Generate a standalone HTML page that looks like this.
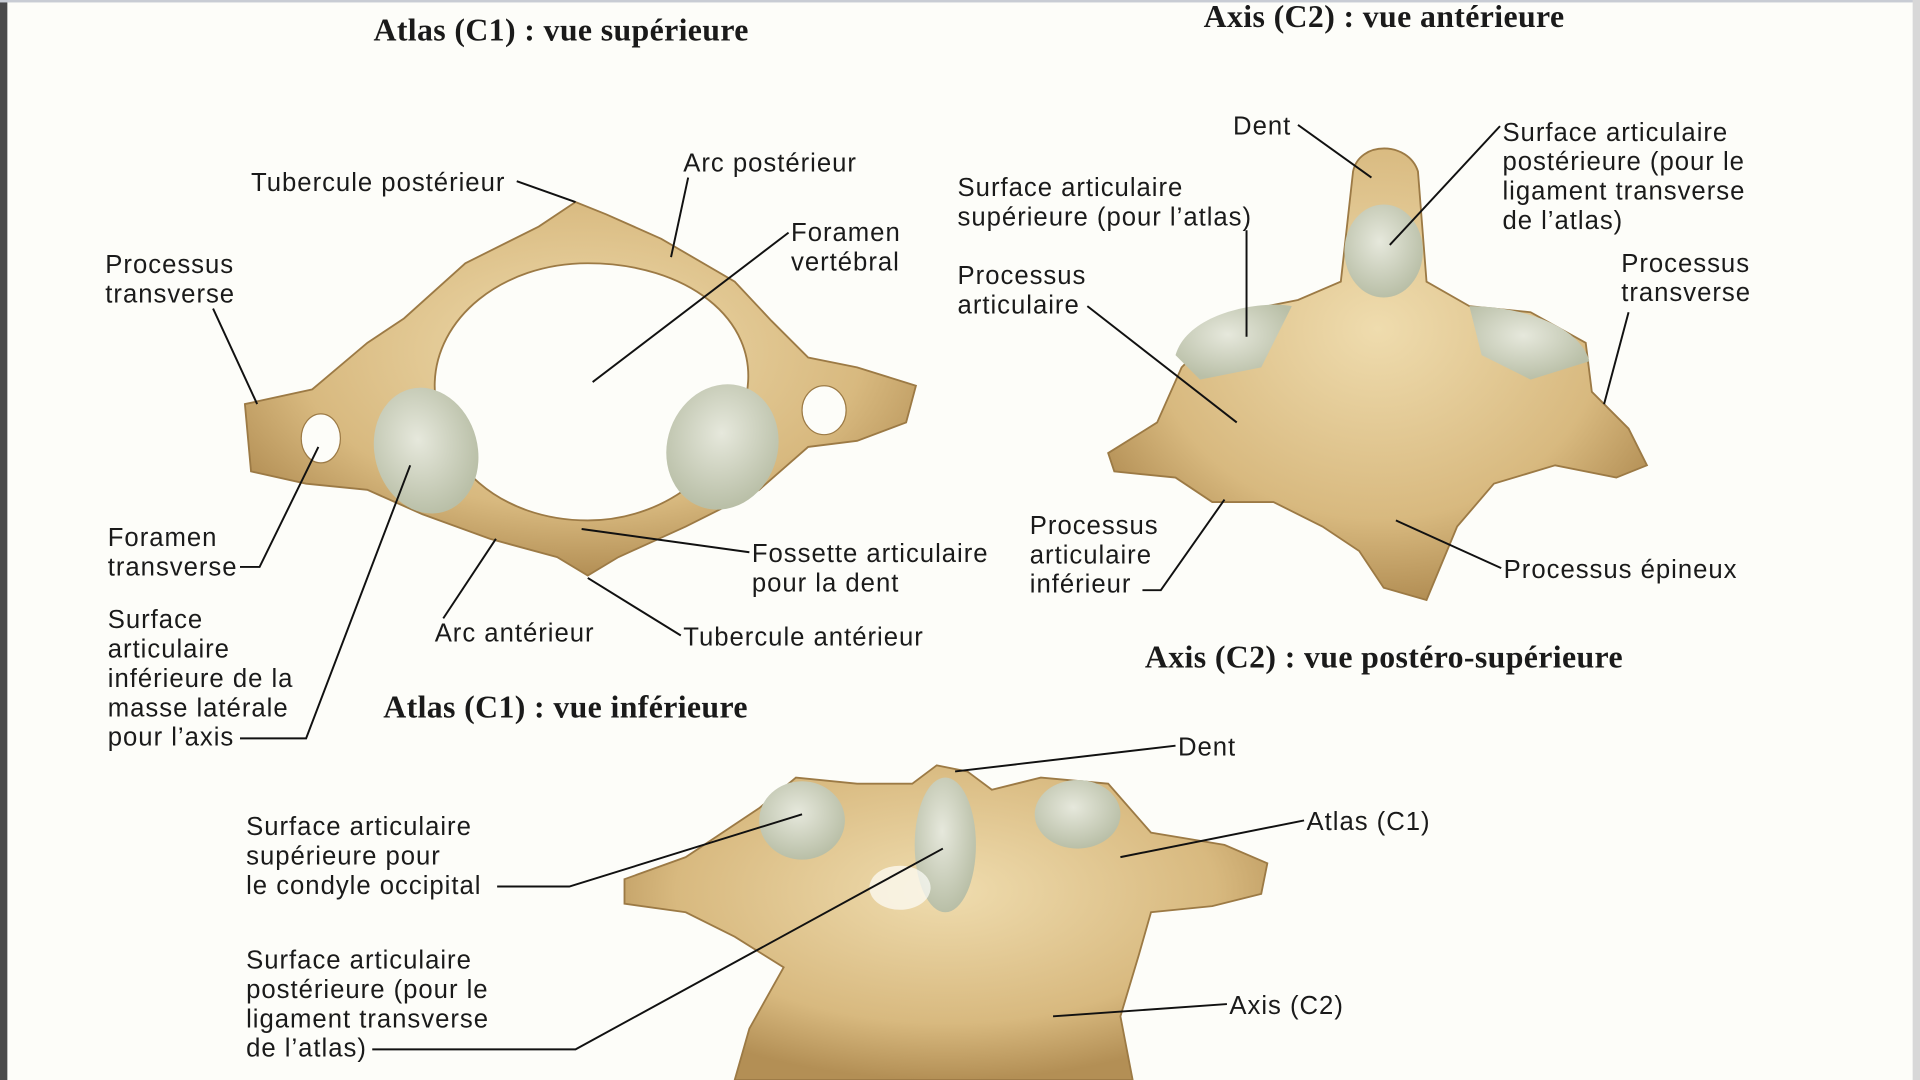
<!DOCTYPE html>
<html><head><meta charset="utf-8"><style>
html,body{margin:0;padding:0;background:#fdfdf9;}
svg{display:block}
text{font-family:"Liberation Sans",sans-serif;font-size:21px;letter-spacing:0.8px;fill:#1a1a1a}
.t{font-family:"Liberation Serif",serif;font-weight:bold;font-size:26px;letter-spacing:0.3px}
line,polyline{stroke:#111;stroke-width:1.6;fill:none}
</style></head><body>
<svg width="1920" height="1080" viewBox="0 0 1568 882" xmlns="http://www.w3.org/2000/svg">
<defs>
<radialGradient id="b" cx="50%" cy="40%" r="60%"><stop offset="0" stop-color="#efdcae"/><stop offset="0.7" stop-color="#d8b97f"/><stop offset="1" stop-color="#b38f55"/></radialGradient>
<radialGradient id="s" cx="45%" cy="40%" r="60%"><stop offset="0" stop-color="#e6e8dc"/><stop offset="1" stop-color="#b9bfa7"/></radialGradient>
</defs>
<rect width="1568" height="882" fill="#fdfdf9"/>
<rect x="0" y="0" width="6" height="882" fill="#4a4a4a"/>
<rect x="0" y="0" width="1568" height="2" fill="#c8ccd4"/>
<rect x="1562" y="0" width="6" height="882" fill="#d8d8d8"/>

<!-- Atlas superior -->
<path fill="url(#b)" stroke="#9c7a45" stroke-width="1.5" fill-rule="evenodd" d="M200,330 L255,318 L300,280 L330,260 L380,215 L440,185 L470,165 L495,175 L540,195 L600,230 L630,262 L660,292 L700,300 L748,315 L740,345 L700,360 L660,365 L620,400 L560,430 L505,455 L480,470 L455,455 L400,440 L345,420 L300,400 L250,395 L205,385 Z
M480,215 C560,215 620,260 610,320 C600,380 545,425 480,425 C410,425 355,380 355,315 C355,260 410,215 480,215 Z"/>
<ellipse cx="262" cy="358" rx="16" ry="20" fill="#fdfdf9" stroke="#9c7a45"/>
<ellipse cx="673" cy="335" rx="18" ry="20" fill="#fdfdf9" stroke="#9c7a45"/>
<ellipse cx="348" cy="368" rx="42" ry="52" fill="url(#s)" transform="rotate(-15 348 368)"/>
<ellipse cx="590" cy="365" rx="45" ry="52" fill="url(#s)" transform="rotate(20 590 365)"/>

<!-- Axis anterior -->
<path fill="url(#b)" stroke="#9c7a45" stroke-width="1.5" d="M1105,140 C1110,115 1150,115 1158,140 L1165,230 L1200,250 L1250,255 L1295,280 L1300,320 L1330,350 L1345,380 L1320,390 L1270,380 L1220,395 L1190,430 L1165,490 L1130,480 L1110,450 L1080,430 L1040,410 L990,410 L960,390 L910,385 L905,370 L945,345 L965,300 L1010,255 L1060,245 L1095,230 Z"/>
<ellipse cx="1130" cy="205" rx="32" ry="38" fill="url(#s)"/>
<path d="M960,290 C970,255 1030,245 1055,250 L1030,300 L980,310 Z" fill="url(#s)"/>
<path d="M1200,250 C1240,250 1290,265 1298,295 L1250,310 L1210,290 Z" fill="url(#s)"/>

<!-- Bottom combined -->
<path fill="url(#b)" stroke="#9c7a45" stroke-width="1.5" d="M510,718 L560,700 L620,660 L650,635 L700,640 L745,640 L765,625 L790,630 L810,645 L850,635 L905,640 L940,680 L1000,690 L1035,705 L1030,730 L990,740 L940,745 L930,780 L915,830 L925,882 L600,882 L612,840 L640,790 L600,765 L560,745 L510,738 Z"/>
<ellipse cx="655" cy="670" rx="35" ry="32" fill="url(#s)"/>
<ellipse cx="880" cy="665" rx="35" ry="28" fill="url(#s)"/>
<ellipse cx="772" cy="690" rx="25" ry="55" fill="url(#s)"/>
<ellipse cx="735" cy="725" rx="25" ry="18" fill="#fdfdf9" opacity="0.7"/>

<!-- Titles -->
<text class="t" x="305" y="33">Atlas (C1) : vue supérieure</text>
<text class="t" x="983" y="22">Axis (C2) : vue antérieure</text>
<text class="t" x="313" y="586">Atlas (C1) : vue inférieure</text>
<text class="t" x="935" y="545">Axis (C2) : vue postéro-supérieure</text>

<!-- Labels atlas sup -->
<text x="205" y="156">Tubercule postérieur</text>
<text x="558" y="140">Arc postérieur</text>
<text x="646" y="197">Foramen</text><text x="646" y="221">vertébral</text>
<text x="86" y="223">Processus</text><text x="86" y="247">transverse</text>
<text x="88" y="446">Foramen</text><text x="88" y="470">transverse</text>
<text x="88" y="513">Surface</text><text x="88" y="537">articulaire</text><text x="88" y="561">inférieure de la</text><text x="88" y="585">masse latérale</text><text x="88" y="609">pour l’axis</text>
<text x="355" y="524">Arc antérieur</text>
<text x="614" y="459">Fossette articulaire</text><text x="614" y="483">pour la dent</text>
<text x="558" y="527">Tubercule antérieur</text>
<polyline points="422,148 470,165"/>
<line x1="562" y1="145" x2="548" y2="210"/>
<polyline points="644,190 484,312"/>
<line x1="174" y1="252" x2="210" y2="330"/>
<polyline points="196,463 212,463 260,365"/>
<polyline points="196,603 250,603 335,380"/>
<line x1="362" y1="505" x2="405" y2="440"/>
<line x1="612" y1="451" x2="475" y2="432"/>
<line x1="556" y1="519" x2="480" y2="472"/>

<!-- Labels axis ant -->
<text x="1007" y="110">Dent</text>
<text x="1227" y="115">Surface articulaire</text><text x="1227" y="139">postérieure (pour le</text><text x="1227" y="163">ligament transverse</text><text x="1227" y="187">de l’atlas)</text>
<text x="782" y="160">Surface articulaire</text><text x="782" y="184">supérieure (pour l’atlas)</text>
<text x="782" y="232">Processus</text><text x="782" y="256">articulaire</text>
<text x="1324" y="222">Processus</text><text x="1324" y="246">transverse</text>
<text x="841" y="436">Processus</text><text x="841" y="460">articulaire</text><text x="841" y="484">inférieur</text>
<text x="1228" y="472">Processus épineux</text>
<line x1="1060" y1="102" x2="1120" y2="145"/>
<line x1="1225" y1="103" x2="1135" y2="200"/>
<line x1="1018" y1="188" x2="1018" y2="275"/>
<line x1="888" y1="250" x2="1010" y2="345"/>
<line x1="1330" y1="255" x2="1310" y2="330"/>
<polyline points="933,482 948,482 1000,408"/>
<line x1="1226" y1="464" x2="1140" y2="425"/>

<!-- Labels bottom -->
<text x="962" y="617">Dent</text>
<text x="1067" y="678">Atlas (C1)</text>
<text x="1004" y="828">Axis (C2)</text>
<text x="201" y="682">Surface articulaire</text><text x="201" y="706">supérieure pour</text><text x="201" y="730">le condyle occipital</text>
<text x="201" y="791">Surface articulaire</text><text x="201" y="815">postérieure (pour le</text><text x="201" y="839">ligament transverse</text><text x="201" y="863">de l’atlas)</text>
<line x1="960" y1="609" x2="780" y2="630"/>
<line x1="1065" y1="670" x2="915" y2="700"/>
<line x1="1002" y1="820" x2="860" y2="830"/>
<polyline points="406,724 465,724 655,665"/>
<polyline points="304,857 470,857 770,693"/>
</svg>
</body></html>
